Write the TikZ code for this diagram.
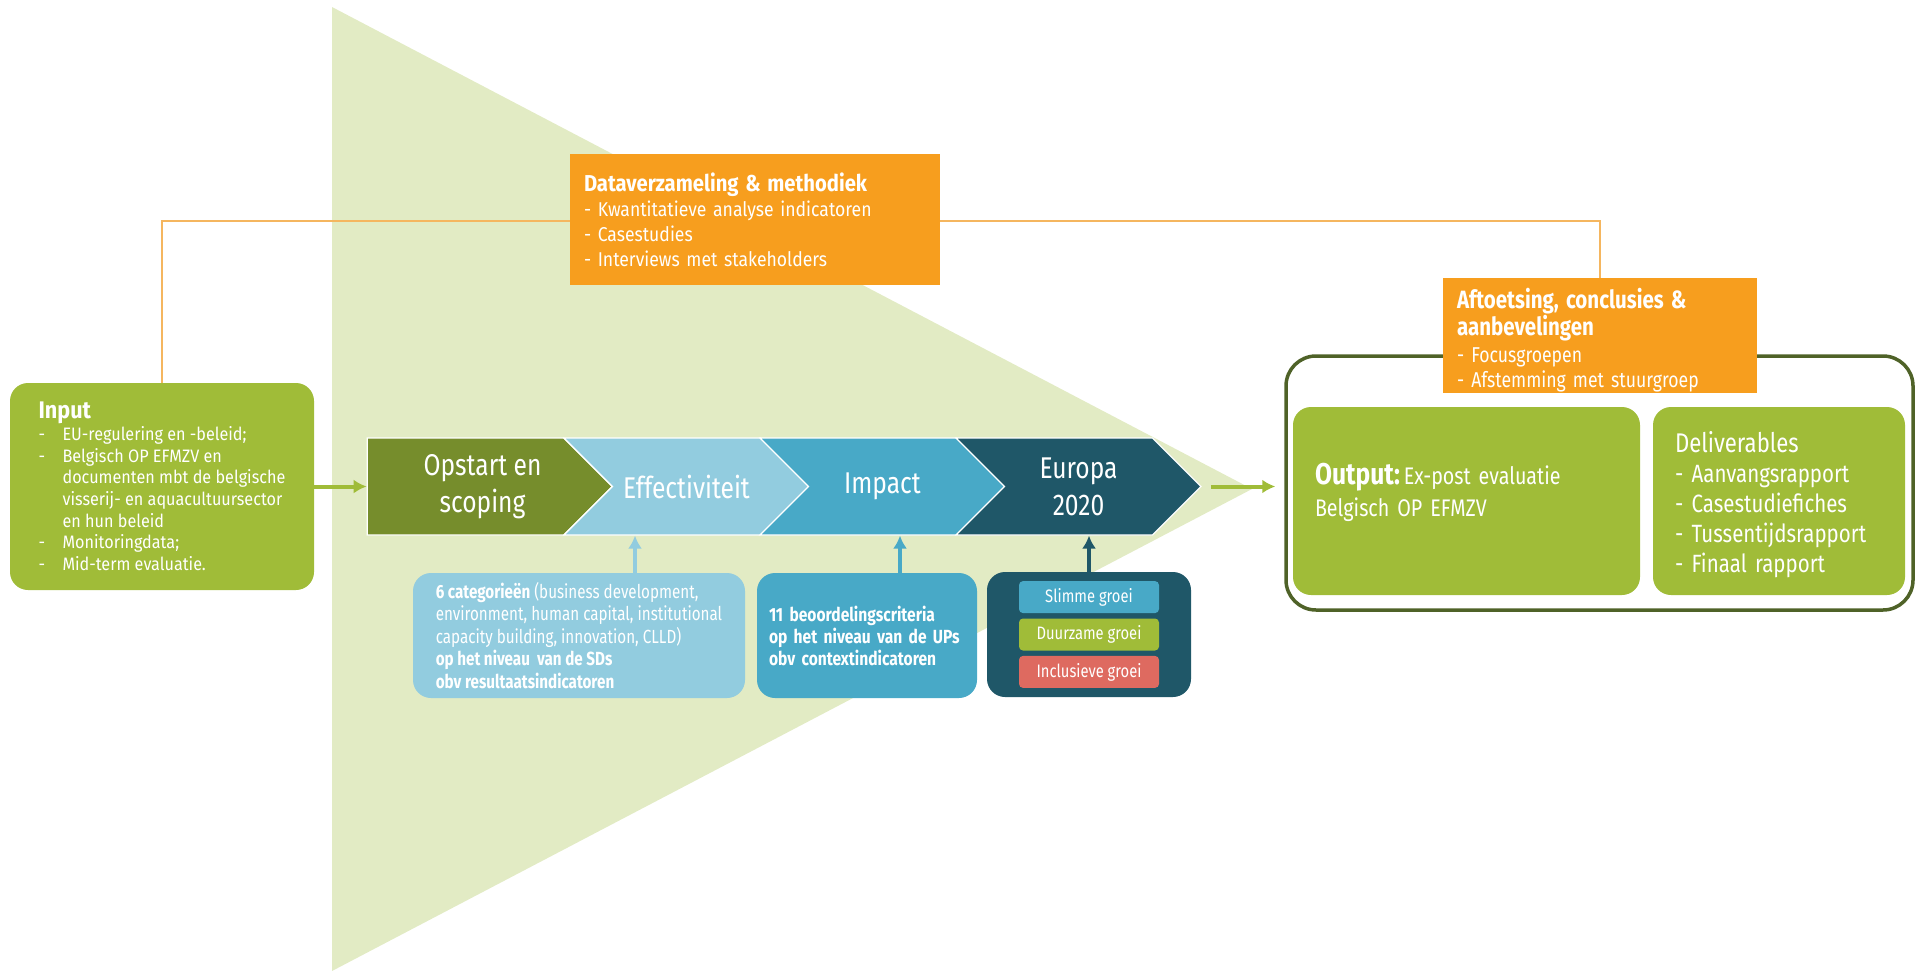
\documentclass[tikz,border=0pt]{standalone}
\usepackage{fontspec}
\setmainfont[FakeStretch=0.82]{Fira Sans}
\newfontfamily\inputfont[FakeStretch=0.9]{Fira Sans}
\newfontfamily\datafont[FakeStretch=0.88]{Fira Sans}
\newfontfamily\catfont[FakeStretch=0.8]{Fira Sans}
\usetikzlibrary{shapes.symbols,arrows.meta,positioning}

\definecolor{trigreen}{RGB}{226,235,196}
\definecolor{ecgreen}{RGB}{160,188,56}
\definecolor{olive}{RGB}{118,141,44}
\definecolor{darkolive}{RGB}{79,98,40}
\definecolor{lightaqua}{RGB}{146,204,223}
\definecolor{aqua}{RGB}{72,169,199}
\definecolor{darkaqua}{RGB}{31,87,104}
\definecolor{ecorange}{RGB}{247,158,30}
\definecolor{lineorange}{RGB}{245,182,95}
\definecolor{ecred}{RGB}{222,106,96}

\newcommand{\bul}{\makebox[24pt][l]{-}}
\newcommand{\ind}{\hspace*{24pt}}

\tikzstyle{block} = [rectangle, rounded corners=18pt, text=white, align=left]
\tikzstyle{orangebox} = [rectangle, fill=ecorange, text=white, align=left]
\tikzstyle{phase} = [signal, signal to=east, draw=white, line width=1.2pt,
    text=white, minimum height=97pt, minimum width=245pt, align=center,
    font=\fontsize{30}{37}\selectfont]
\tikzstyle{pill} = [rectangle, rounded corners=4pt, minimum width=140pt,
    minimum height=32pt, text=white, font=\fontsize{18}{20}\selectfont]
\tikzstyle{uparrow} = [->, line width=4pt]

\begin{document}
\begin{tikzpicture}[x=1pt, y=-1pt, >={Latex[length=13pt,width=14pt]}]
    \useasboundingbox (0,0) rectangle (1916,971);
    % funnel
    \fill [trigreen] (332,7) -- (1252,489) -- (332,971) -- cycle;

    \node [block, fill=ecgreen, minimum width=304pt, minimum height=207pt,
        font=\inputfont\fontsize{18}{21.7}\selectfont] (input) at (162,486.5)
        {{\bfseries\fontsize{24}{26}\selectfont Input}\\
         \bul EU-regulering en -beleid;\\
         \bul Belgisch OP EFMZV en\\
         \ind documenten mbt de belgische\\
         \ind visserij- en aquacultuursector\\
         \ind en hun beleid\\
         \bul Monitoringdata;\\
         \bul Mid-term evaluatie.};

    % output frame
    \node [draw=darkolive, line width=3.5pt, rounded corners=30pt, minimum width=627pt,
        minimum height=254pt] (frame) at (1599.5,483) {};

    \node [orangebox, minimum height=115pt, text width=286pt, inner xsep=14pt, inner ysep=0pt,
        font=\fontsize{21.5}{25}\selectfont] (aft) at (1600,335.5)
        {{\bfseries\fontsize{25}{30}\selectfont \rule{0pt}{29pt}Aftoetsing, conclusies \&\\ aanbevelingen}\\[2pt]
         - Focusgroepen\\
         - Afstemming met stuurgroep};

    \coordinate (ltop) at (163,221);
    \draw [lineorange, line width=1.5pt] (input.north) |- (ltop) -| (aft.north);

    \node [orangebox, minimum height=131pt, text width=342pt, inner xsep=14pt,
        font=\datafont\fontsize{20}{25}\selectfont] (data) at (755,219.5)
        {{\bfseries\fontsize{23}{28}\selectfont Dataverzameling \& methodiek}\\
         - Kwantitatieve analyse indicatoren\\
         - Casestudies\\
         - Interviews met stakeholders};

    \node [block, fill=ecgreen, minimum height=188pt, text width=303pt, inner xsep=22pt,
        font=\fontsize{24}{32}\selectfont] (output) at (1466.5,501)
        {{\bfseries\fontsize{30}{32}\selectfont Output:}\hspace{4pt}Ex-post evaluatie\\
         Belgisch OP EFMZV\\[-10pt]\mbox{}};
    \node [block, fill=ecgreen, minimum height=188pt, text width=208pt, inner xsep=22pt,
        font=\fontsize{25}{30}\selectfont] (deliv) at (1779,501)
        {{\fontsize{27}{34}\selectfont \rule{0pt}{28pt}Deliverables}\\
         - Aanvangsrapport\\
         - Casestudiefiches\\
         - Tussentijdsrapport\\
         - Finaal rapport};

    % phases
    \node [phase, fill=olive] (opstart) at (465.5,486.5) {\hspace*{34pt}Opstart en\\ \hspace*{34pt}scoping};
    \node [phase, fill=lightaqua, signal from=west] (effect) at (686.5,486.5) {Effectiviteit};
    \node [phase, fill=aqua, signal from=west] (impact) at (882.5,486.5) {Impact};
    \node [phase, fill=darkaqua, signal from=west] (europa) at (1078.5,486.5) {Europa\\ 2020};

    % criteria
    \node [block, fill=lightaqua, minimum width=332pt, minimum height=125pt,
        font=\catfont\fontsize{19}{22.5}\selectfont] (cat) at (579,635.5)
        {\textbf{6 categorieën} (business development,\\
         environment, human capital, institutional\\
         capacity building, innovation, CLLD)\\
         \textbf{op het niveau\ \ van de SDs}\\
         \textbf{obv resultaatsindicatoren}};
    \node [block, fill=aqua, minimum height=125pt, text width=196pt, inner xsep=12pt,
        font=\bfseries\fontsize{19}{22}\selectfont] (crit) at (867,635.5)
        {11 beoordelingscriteria\\
         op het niveau van de UPs\\
         obv contextindicatoren};
    \node [block, fill=darkaqua, minimum width=204pt, minimum height=125pt] (eu) at (1089,634.5) {};
    \node [pill, fill=ecgreen] (duurzaam) at (eu) {Duurzame groei};
    \node [pill, fill=aqua, above=5pt of duurzaam] (slim) {Slimme groei};
    \node [pill, fill=ecred, below=5pt of duurzaam] (inclusief) {Inclusieve groei};

    \draw [uparrow, ecgreen] (input.east) -- (opstart.west);
    \draw [uparrow, ecgreen] ([xshift=9pt]europa.east) -- ([xshift=-9pt]europa.east -| frame.west);
    \draw [uparrow, lightaqua] ([xshift=56pt]cat.north) -- ([xshift=56pt]cat.north |- effect.south);
    \draw [uparrow, aqua] ([xshift=33pt]crit.north) -- ([xshift=33pt]crit.north |- impact.south);
    \draw [uparrow, darkaqua] (eu.north) -- (eu.north |- europa.south);
\end{tikzpicture}
\end{document}
